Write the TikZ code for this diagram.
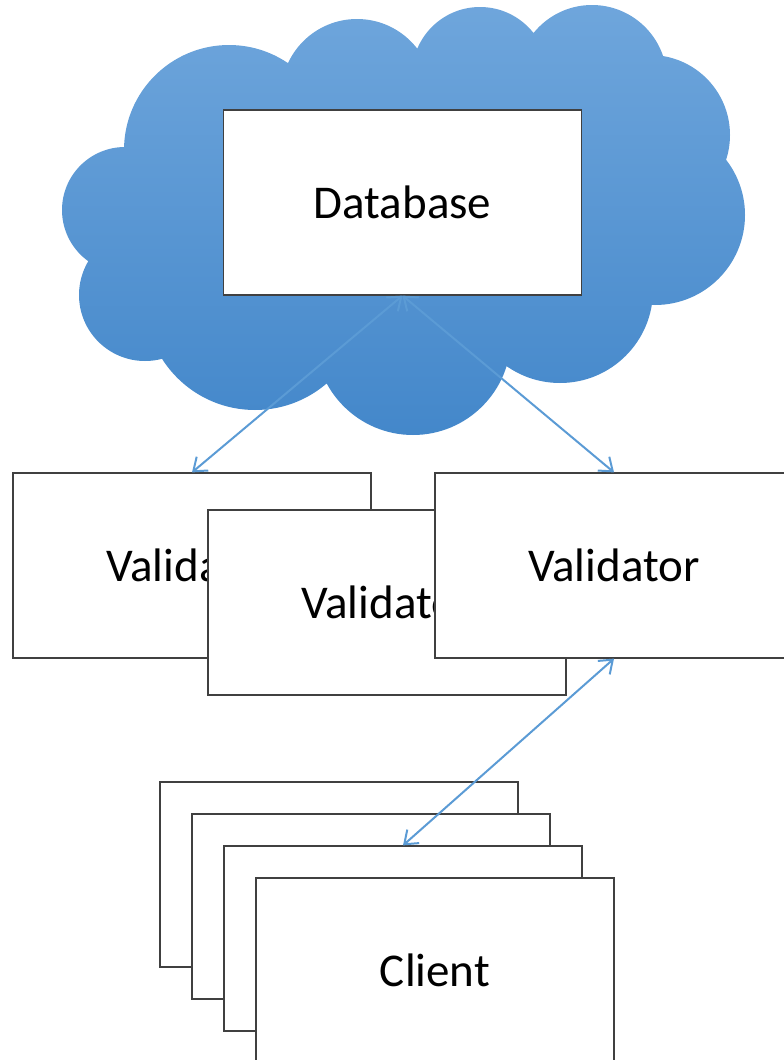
\documentclass[tikz,border=0pt]{standalone}
\usepackage{fontspec}
\setmainfont{Carlito}
\usetikzlibrary{arrows.meta}
\definecolor{cloudtop}{HTML}{6FA6DC}
\definecolor{cloudbot}{HTML}{4387CA}
\definecolor{linkblue}{HTML}{5B9BD5}
\tikzset{
  box/.style={draw=black!75, line width=1.2pt, fill=white,
    minimum width=358pt, minimum height=185pt, inner sep=0pt,
    font=\fontsize{47}{56}\selectfont},
  link/.style={draw=linkblue, line width=2pt,
    {Straight Barb[length=12pt,width=18pt]}-{Straight Barb[length=12pt,width=18pt]}}
}
\begin{document}
\begin{tikzpicture}[x=1pt, y=-1pt]
    \useasboundingbox (0, 0) rectangle (784, 1060);
    \clip (0, 0) rectangle (784, 1060);
    % cloud
    \begin{scope}
      \clip (125, 210) circle [radius=63] (145, 295) circle [radius=66]
        (255, 300) circle [radius=110] (413, 337) circle [radius=98]
        (560, 290) circle [radius=93] (655, 215) circle [radius=90]
        (650, 135) circle [radius=80] (592, 80) circle [radius=75]
        (480, 75) circle [radius=68] (357, 95) circle [radius=76]
        (229, 150) circle [radius=105] (400, 220) ellipse [x radius=200, y radius=150];
      \shade[top color=cloudtop, bottom color=cloudbot] (50, 0) rectangle (760, 440);
    \end{scope}
    \node[box] (db) at (402.5, 202.5) {Database};
    % validators
    \node[box] (val1) at (192, 565.5) {Validator};
    \node[box] (val2) at (387, 602.5) {Validator};
    \node[box] (val3) at (614, 565.5) {Validator};
    % clients
    \node[box] (cl1) at (339, 874.5) {};
    \node[box] (cl2) at (371, 906.5) {};
    \node[box] (cl3) at (403, 938.5) {};
    \node[box] (cl4) at (435, 970.5) {Client};
    \draw[link] (db.south) -- (val1.north);
    \draw[link] (db.south) -- (val3.north);
    \draw[link] (val3.south) -- (cl3.north);
\end{tikzpicture}
\end{document}
